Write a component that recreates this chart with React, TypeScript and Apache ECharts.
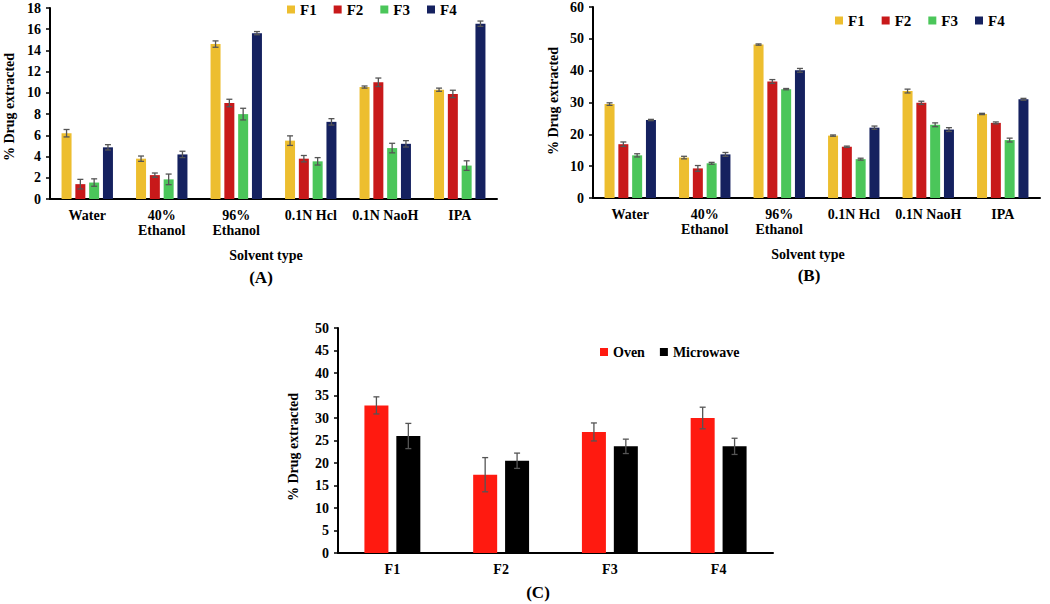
import React, { useEffect, useRef } from "react";
import * as echarts from "echarts";

const solvents = ["Water", "40%\nEthanol", "96%\nEthanol", "0.1N Hcl", "0.1N NaoH", "IPA"];
const formNames = ["F1", "F2", "F3", "F4"];
const formColors = ["#EDBE2F", "#C8191A", "#4BC65A", "#15215F"];

// Chart A values (% drug extracted) and errors
const aF1 = [6.2, 3.8, 14.6, 5.5, 10.55, 10.3];
const aF2 = [1.4, 2.25, 9.05, 3.8, 11.0, 9.9];
const aF3 = [1.55, 1.85, 8.0, 3.55, 4.8, 3.15];
const aF4 = [4.87, 4.2, 15.63, 7.27, 5.2, 16.52];
const aErrF1 = [0.35, 0.25, 0.3, 0.45, 0.1, 0.15];
const aErrF2 = [0.45, 0.2, 0.35, 0.3, 0.4, 0.35];
const aErrF3 = [0.35, 0.5, 0.55, 0.35, 0.45, 0.45];
const aErrF4 = [0.25, 0.3, 0.15, 0.3, 0.3, 0.25];

// Chart B values
const bF1 = [29.5, 12.7, 48.2, 19.6, 33.6, 26.4];
const bF2 = [16.9, 9.3, 36.6, 16.1, 29.9, 23.6];
const bF3 = [13.4, 10.9, 34.2, 12.2, 23.0, 18.2];
const bF4 = [24.5, 13.7, 40.1, 22.1, 21.5, 31.0];
const bErrF1 = [0.4, 0.4, 0.2, 0.2, 0.6, 0.2];
const bErrF2 = [0.7, 0.9, 0.6, 0.2, 0.5, 0.3];
const bErrF3 = [0.5, 0.3, 0.2, 0.3, 0.6, 0.6];
const bErrF4 = [0.2, 0.6, 0.6, 0.5, 0.6, 0.3];

// Chart C values
const cCats = ["F1", "F2", "F3", "F4"];
const cNames = ["Oven", "Microwave"];
const cColors = ["#FF1A10", "#000000"];
const cOven = [32.8, 17.4, 26.9, 30.0];
const cMicro = [26.0, 20.5, 23.7, 23.7];
const cErrOven = [1.9, 3.8, 2.0, 2.4];
const cErrMicro = [2.8, 1.7, 1.6, 1.8];

const yTicksA = { min: 0, max: 18, interval: 2 };
const yTicksB = { min: 0, max: 60, interval: 10 };
const yTicksC = { min: 0, max: 50, interval: 5 };

const FONT = "'Liberation Serif', 'Times New Roman', Times, serif";

function errSeries(
  name: string,
  vals: number[],
  errs: number[],
  idx: number,
  n: number,
  bw: number,
  gap: number,
  axis: number
) {
  const step = bw * (1 + gap);
  const off = (idx - (n - 1) / 2) * step;
  return {
    type: "custom",
    name: name + "_err",
    xAxisIndex: axis,
    yAxisIndex: axis,
    z: 10,
    silent: true,
    data: vals.map((v, i) => [i, v, errs[i]]),
    renderItem: (params: any, api: any) => {
      const x = api.value(0);
      const v = api.value(1);
      const e = api.value(2);
      const top = api.coord([x, v + e]);
      const bot = api.coord([x, v - e]);
      const cx = top[0] + off;
      const cap = 3;
      const st = { stroke: "#555555", lineWidth: 1.3 };
      return {
        type: "group",
        children: [
          { type: "line", shape: { x1: cx, y1: top[1], x2: cx, y2: bot[1] }, style: st },
          { type: "line", shape: { x1: cx - cap, y1: top[1], x2: cx + cap, y2: top[1] }, style: st },
          { type: "line", shape: { x1: cx - cap, y1: bot[1], x2: cx + cap, y2: bot[1] }, style: st },
        ],
      };
    },
  };
}

export default function App() {
  const ref = useRef<HTMLDivElement>(null);
  useEffect(() => {
    if (!ref.current) return;
    const chart = echarts.init(ref.current, null, { renderer: "svg" });

    const labelStyle = { color: "#000", fontFamily: FONT, fontWeight: "bold" as const, fontSize: 14 };
    const axisLineStyle = { show: true, lineStyle: { color: "#000", width: 2 } };

    const mkX = (data: string[], grid: number, lh: number) => ({
      type: "category",
      gridIndex: grid,
      data,
      axisLine: axisLineStyle,
      axisTick: { show: false },
      axisLabel: { ...labelStyle, margin: 9, lineHeight: lh, interval: 0 },
      splitLine: { show: false },
    });
    const mkY = (t: any, grid: number) => ({
      type: "value",
      gridIndex: grid,
      min: t.min,
      max: t.max,
      interval: t.interval,
      axisLine: axisLineStyle,
      axisTick: { show: true, length: 4, lineStyle: { color: "#000", width: 1.5 } },
      axisLabel: { ...labelStyle, margin: 9 },
      splitLine: { show: false },
    });

    const bwAB = 10;
    const gapAB = 0.38;
    const bwC = 24;
    const gapC = 0.33;

    const aVals = [aF1, aF2, aF3, aF4];
    const aErrs = [aErrF1, aErrF2, aErrF3, aErrF4];
    const bVals = [bF1, bF2, bF3, bF4];
    const bErrs = [bErrF1, bErrF2, bErrF3, bErrF4];
    const cVals = [cOven, cMicro];
    const cErrs = [cErrOven, cErrMicro];

    const series: any[] = [];
    formNames.forEach((nm, i) => {
      series.push({
        type: "bar",
        name: nm,
        xAxisIndex: 0,
        yAxisIndex: 0,
        data: aVals[i],
        barWidth: bwAB,
        barGap: gapAB * 100 + "%",
        itemStyle: { color: formColors[i] },
      });
    });
    formNames.forEach((nm, i) => {
      series.push({
        type: "bar",
        name: nm,
        xAxisIndex: 1,
        yAxisIndex: 1,
        data: bVals[i],
        barWidth: bwAB,
        barGap: gapAB * 100 + "%",
        itemStyle: { color: formColors[i] },
      });
    });
    cNames.forEach((nm, i) => {
      series.push({
        type: "bar",
        name: nm,
        xAxisIndex: 2,
        yAxisIndex: 2,
        data: cVals[i],
        barWidth: bwC,
        barGap: gapC * 100 + "%",
        itemStyle: { color: cColors[i] },
      });
    });
    formNames.forEach((nm, i) => series.push(errSeries("A" + nm, aVals[i], aErrs[i], i, 4, bwAB, gapAB, 0)));
    formNames.forEach((nm, i) => series.push(errSeries("B" + nm, bVals[i], bErrs[i], i, 4, bwAB, gapAB, 1)));
    cNames.forEach((nm, i) => series.push(errSeries(nm, cVals[i], cErrs[i], i, 2, bwC, gapC, 2)));

    const legendText = { color: "#000", fontFamily: FONT, fontWeight: "bold" as const, fontSize: 15 };

    const txt = (text: string, x: number, y: number, size: number, rot = 0) => ({
      type: "text",
      x,
      y,
      rotation: rot,
      style: {
        text,
        fill: "#000",
        fontFamily: FONT,
        fontWeight: "bold",
        fontSize: size,
        align: "center",
        verticalAlign: "middle",
      },
    });

    const legendBase = {
      icon: "rect",
      itemWidth: 8,
      itemHeight: 8,
      padding: 0,
      selectedMode: false,
    };

    chart.setOption({
      animation: false,
      backgroundColor: "#fff",
      grid: [
        { left: 50, top: 8, width: 447, height: 191 },
        { left: 593, top: 7, width: 447, height: 191 },
        { left: 338, top: 328, width: 435, height: 225 },
      ],
      xAxis: [mkX(solvents, 0, 15), mkX(solvents, 1, 15), mkX(cCats, 2, 15)],
      yAxis: [mkY(yTicksA, 0), mkY(yTicksB, 1), mkY(yTicksC, 2)],
      legend: [
        { ...legendBase, data: formNames, left: 287, top: 2, itemGap: 17, textStyle: legendText },
        { ...legendBase, data: formNames, left: 835, top: 13, itemGap: 17, textStyle: legendText },
        {
          ...legendBase,
          data: cNames,
          left: 600,
          top: 345,
          itemGap: 15,
          textStyle: { ...legendText, fontSize: 14 },
        },
      ],
      graphic: [
        txt("% Drug extracted", 9, 107, 14, Math.PI / 2),
        txt("% Drug extracted", 553, 101, 14, Math.PI / 2),
        txt("% Drug extracted", 293, 447, 14, Math.PI / 2),
        txt("Solvent type", 266, 255, 14),
        txt("(A)", 261, 277, 17),
        txt("Solvent type", 808, 254, 14),
        txt("(B)", 809, 275, 17),
        txt("(C)", 538, 592, 17),
      ],
      series,
    });
    return () => chart.dispose();
  }, []);
  return (
    <div
      ref={ref}
      style={{ position: "fixed", left: 0, top: 0, width: 1050, height: 604, background: "#fff" }}
    />
  );
}
